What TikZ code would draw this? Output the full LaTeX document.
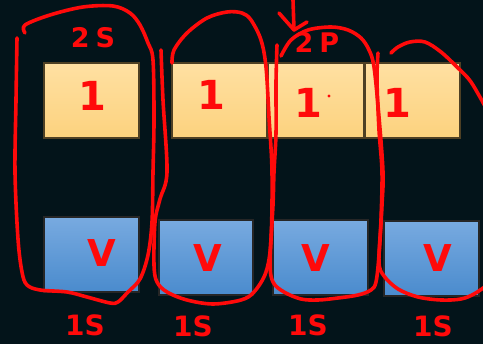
\documentclass[tikz,border=0pt]{standalone}
\usepackage{fontspec}
\newfontfamily\hand{DejaVu Sans Bold}
\newfontfamily\handwide[LetterSpace=22]{DejaVu Sans Bold}
\definecolor{bg}{HTML}{03141A}
\definecolor{ink}{HTML}{FF0A0A}
\definecolor{ortop}{HTML}{FFE0A2}
\definecolor{orbot}{HTML}{FCD27E}
\definecolor{oredge}{HTML}{4E4024}
\definecolor{bltop}{HTML}{78AAE0}
\definecolor{blbot}{HTML}{4A8BCD}
\begin{document}
\begin{tikzpicture}[x=1pt,y=-1pt,
  cellbox/.style={draw=oredge,line width=1.3pt,top color=ortop,bottom color=orbot,
    minimum height=75pt,inner sep=0pt,outer sep=0pt},
  bluebox/.style={draw=black!85,line width=2pt,top color=bltop,bottom color=blbot,
    minimum width=95pt,minimum height=75pt,inner sep=0pt,outer sep=0pt},
  pen/.style={draw=ink,line width=3.6pt,line cap=round,line join=round},
  one/.style={text=ink,font=\hand\fontsize{40}{40}\selectfont,inner sep=0pt,anchor=base},
  vee/.style={text=ink,font=\hand\fontsize{37}{37}\selectfont,inner sep=0pt,anchor=base},
  tag/.style={text=ink,font=\handwide\fontsize{27}{27}\selectfont,inner sep=0pt,anchor=base},
  count/.style={text=ink,font=\hand\fontsize{28}{28}\selectfont,inner sep=0pt,anchor=base}]
\fill[bg] (0,0) rectangle (483,344);
\useasboundingbox (0,0) rectangle (483,344);

% cells (top row)
\node[cellbox,minimum width=95pt] (o1) at (91.5,100.5) {};
\node[cellbox,minimum width=95pt] (o2) at (219.5,100.5) {};
\node[cellbox,minimum width=96pt] (o3) at (316,100.5) {};
\node[cellbox,minimum width=95pt] (o4) at (412.5,100.5) {};

% blue blocks (bottom row)
\node[bluebox] (b1) at (91.5,254.5) {};
\node[bluebox,minimum width=94pt] (b2) at (206,257.5) {};
\node[bluebox] (b3) at (320.5,257.5) {};
\node[bluebox] (b4) at (431.5,258.5) {};

% written values
\node[one] (t1) at (92,111) {1};
\node[one] (t2) at (211,110) {1};
\node[one] (t3) at (308,118) {1};
\node[one] (t4) at (397,118) {1};
\fill[ink] (329,96) circle (1.6);

\node[vee] (v1) at (102,267) {V};
\node[vee] (v2) at (208,272) {V};
\node[vee] (v3) at (316,272) {V};
\node[vee] (v4) at (438,272) {V};

\node[tag] (s2) at (93,48) {2S};
\node[tag] (p2) at (317,53) {2P};

\node[count] (c1) at (85,336) {1S};
\node[count] (c2) at (193,337) {1S};
\node[count] (c3) at (308,336) {1S};
\node[count] (c4) at (433,337) {1S};

% arrow pointing at the 2P group
\draw[pen] (293,0) -- (294,30);
\draw[pen] (279,13) -- (294,30) -- (307,22);

% loop round the 2S group
\draw[pen] plot[smooth,tension=0.55] coordinates {
  (25,33) (25,25) (50,15) (83,7) (113,6) (130,13) (140,25) (148,43) (153,60)
  (154,120) (153,172) (152,222) (148,255) (140,279) (128,292) (118,302)
  (110,303) (87,297) (67,292) (40,290) (27,285) (22,272) (18,239) (15,172)
  (16,100) (17,38)};

% loop round the second cell
\draw[pen] plot[smooth,tension=0.55] coordinates {
  (172,63) (174,50) (187,33) (207,18) (227,12) (242,13) (251,20) (261,40)
  (266,67) (269,117) (272,172) (271,240) (266,272) (254,292) (241,300)
  (213,304) (187,300) (167,292) (157,282) (154,265) (155,222) (160,199)
  (167,172) (163,100) (161,50)};

% loop round the 2P group
\draw[pen] plot[smooth,tension=0.55] coordinates {
  (281,56) (291,40) (308,30) (331,27) (348,30) (361,38) (369,50) (374,67)
  (379,117) (383,172) (382,205) (379,255) (376,282) (371,290) (358,295)
  (338,298) (318,300) (301,299) (284,292) (273,282) (270,262) (273,205)
  (274,172) (276,133) (276,83) (277,45)};

% loop round the last cell
\draw[pen] plot[smooth,tension=0.55] coordinates {
  (391,53) (398,47) (410,42) (425,42) (441,52) (458,68) (471,82) (486,108)};
\draw[pen] plot[smooth,tension=0.55] coordinates {
  (378,53) (377,80) (379,130) (382,172) (381,220) (379,262) (384,276)
  (398,289) (418,297) (441,300) (461,299) (474,294) (486,286)};
\end{tikzpicture}
\end{document}
